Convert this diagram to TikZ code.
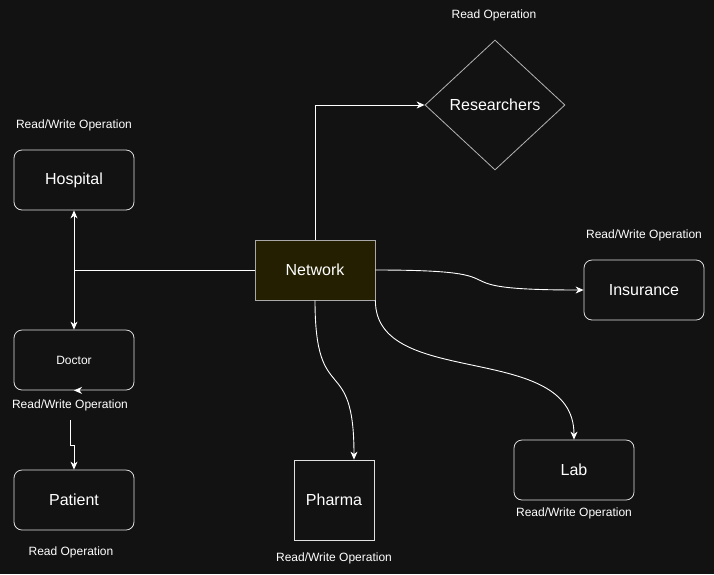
\documentclass[tikz,border=0pt]{standalone}
\usepackage{fontspec}
\setmainfont{Liberation Sans}
\usetikzlibrary{shapes.geometric,arrows.meta,calc}
\definecolor{bgc}{HTML}{121212}
\definecolor{netfill}{HTML}{231F00}
\definecolor{netline}{HTML}{A8A8A8}
\definecolor{boxline}{HTML}{E0E0E0}

\begin{document}
\begin{tikzpicture}[x=1pt,y=-1pt,
  box/.style={draw=boxline,rounded corners=8pt,minimum width=120pt,minimum height=60pt,inner sep=0pt,text=white,font=\fontsize{16}{19}\selectfont,line width=0.8pt},
  lbl/.style={text=white,font=\fontsize{12}{14}\selectfont},
  wire/.style={white,line width=0.9pt},
  arr/.style={wire,-{Stealth[length=8pt,width=7pt,inset=2.5pt]}},
  darr/.style={wire,{Stealth[length=8pt,width=7pt,inset=2.5pt]}-{Stealth[length=8pt,width=7pt,inset=2.5pt]}}]
\fill[bgc] (0,0) rectangle (714,574);
% entities
\node[box](Hospital) at (74,180){Hospital};
\node[box,font=\fontsize{12}{14}\selectfont](Doctor) at (74,360){Doctor};
\node[box](Patient) at (74,500){Patient};
\node[box,rounded corners=0pt,fill=netfill,draw=netline](Network) at (315,270){Network};
\node[box,shape=diamond,rounded corners=0pt,draw=boxline!80!black,minimum width=140pt,minimum height=130pt](Researchers) at (495,105){Researchers};
\node[box](Insurance) at (644,290){Insurance};
\node[box](Lab) at (574,470){Lab};
\node[box,rounded corners=0pt,minimum width=80pt,minimum height=80pt](Pharma) at (334,500){Pharma};
% operation labels
\node[lbl](LHospital) at (74,125){Read/Write Operation};
\node[lbl](LDoctor) at (70,405){Read/Write Operation};
\node[lbl](LPatient) at (71,552){Read Operation};
\node[lbl](LResearchers) at (494,15){Read Operation};
\node[lbl](LInsurance) at (644,235){Read/Write Operation};
\node[lbl](LLab) at (574,513){Read/Write Operation};
\node[lbl](LPharma) at (334,558){Read/Write Operation};
% links
\coordinate (hd) at (Hospital.south |- Network.west);
\coordinate (dp) at (70,420);
\coordinate (ph) at ($(Pharma.north)+(20,0)$);
\draw[wire] (Network.west) -- (hd);
\draw[darr] (Hospital.south) -- (Doctor.north);
\draw[arr] ($(Doctor.south)+(3,0)$) -- (Doctor.south);
\draw[arr] (dp) -- (70,445) -- (74,445) -- (Patient.north);
\draw[arr] (Network.north) |- (Researchers.west);
\draw[arr] (Network.east) .. controls (540,270) and (420,290) .. (Insurance.west);
\draw[arr] (Network.south) .. controls (315,410) and (354,350) .. (ph);
\draw[arr] (Network.south east) .. controls (375,390) and (574,340) .. (Lab.north);
\end{tikzpicture}
\end{document}
